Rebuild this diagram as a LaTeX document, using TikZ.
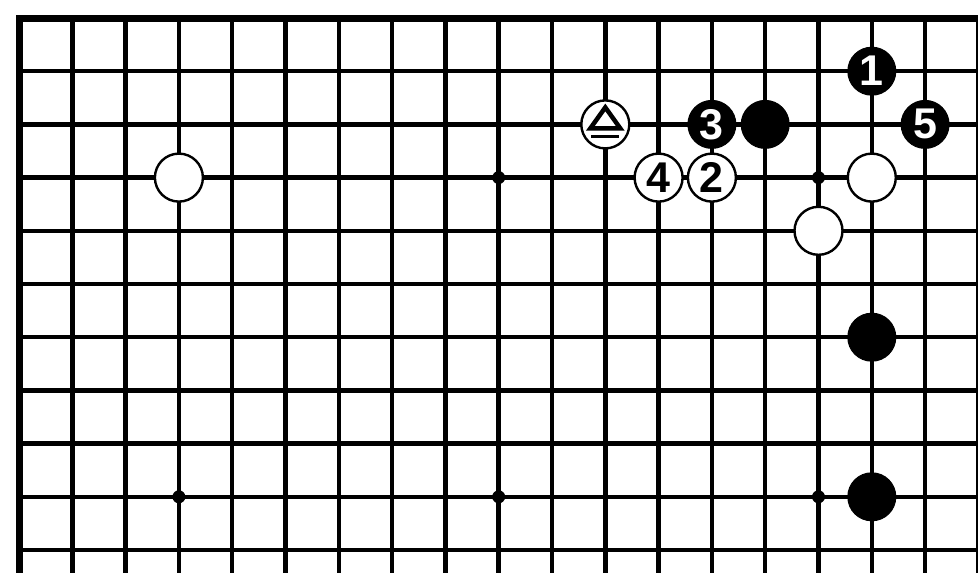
\documentclass[tikz,border=0pt]{standalone}
\usepackage{fontspec}
\setmainfont{Liberation Sans}
\begin{document}
\begin{tikzpicture}[x=1pt,y=-1pt]
\tikzset{
 gridline/.style={line width=4.5pt},
 edgeline/.style={line width=7pt, line cap=rect},
 stonebase/.style={circle, minimum size=48pt, inner sep=0pt, font=\fontsize{43}{43}\selectfont\bfseries},
 wstone/.style={stonebase, draw=black, fill=white, line width=2.4pt},
 bstone/.style={stonebase, draw=black, fill=black, line width=1pt, text=white},
 hoshi/.style={circle, fill=black, minimum size=13pt, inner sep=0pt},
 tri/.style={line width=4.5pt, line join=miter},
}
\def\cx#1{19+53.3*#1}
\def\ry#1{18+53.2*#1}
\useasboundingbox (0,0) rectangle (978,573);
\clip (0,0) rectangle (978,573);
\foreach \i in {1,...,18} \draw[gridline] ({\cx{\i}},18) -- ({\cx{\i}},590);
\foreach \j in {1,...,11} \draw[gridline] (19,{\ry{\j}}) -- (990,{\ry{\j}});
\draw[edgeline] (19,590) -- (19,18) -- (990,18);
% star points
\node[hoshi] (h1) at ({\cx{9}},{\ry{3}}) {};
\node[hoshi] (h2) at ({\cx{15}},{\ry{3}}) {};
\node[hoshi] (h3) at ({\cx{3}},{\ry{9}}) {};
\node[hoshi] (h4) at ({\cx{9}},{\ry{9}}) {};
\node[hoshi] (h5) at ({\cx{15}},{\ry{9}}) {};
% white stones
\node[wstone] (wa) at ({\cx{3}},{\ry{3}}) {};
\node[wstone] (wt) at ({\cx{11}},{\ry{2}}) {};
\node[wstone] (w4) at ({\cx{12}},{\ry{3}}) {4};
\node[wstone] (w2) at ({\cx{13}},{\ry{3}}) {2};
\node[wstone] (wb) at ({\cx{16}},{\ry{3}}) {};
\node[wstone] (wc) at ({\cx{15}},{\ry{4}}) {};
% black stones
\node[bstone] (b3) at ({\cx{13}},{\ry{2}}) {3};
\node[bstone] (ba) at ({\cx{14}},{\ry{2}}) {};
\node[bstone] (b1) at ({\cx{16}},{\ry{1}}) {1};
\node[bstone] (b5) at ({\cx{17}},{\ry{2}}) {5};
\node[bstone] (bb) at ({\cx{16}},{\ry{6}}) {};
\node[bstone] (bc) at ({\cx{16}},{\ry{9}}) {};
% triangle mark
\draw[tri] ([xshift=-15pt,yshift=-4pt]wt.center) -- ([yshift=17pt]wt.center) -- ([xshift=15pt,yshift=-4pt]wt.center) -- cycle;
\draw[line width=3.5pt] ([xshift=-14pt,yshift=-12pt]wt.center) -- ([xshift=14pt,yshift=-12pt]wt.center);
\end{tikzpicture}
\end{document}
